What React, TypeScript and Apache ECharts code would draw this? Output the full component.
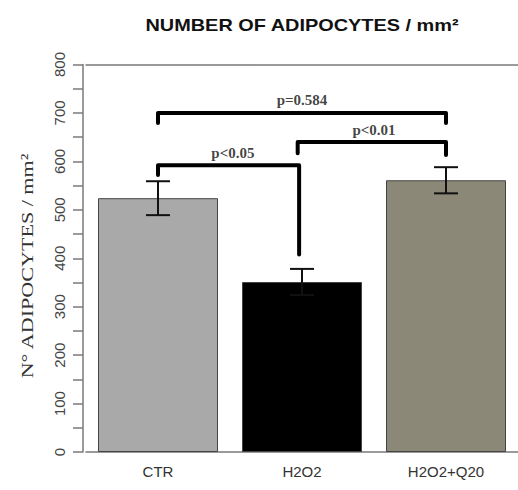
import React, { useEffect, useRef } from "react";
import * as echarts from "echarts";

const categories = ["CTR", "H2O2", "H2O2+Q20"];
const means = [524, 351, 561];
const errors = [35, 27, 27];
const barColors = ["#a9a9a9", "#000000", "#8b8878"];

// significance brackets: [x start, x end, left leg end, top, right leg end]
const bracketX0 = [0, 0, 0.97];
const bracketX1 = [2, 0.98, 2];
const bracketLeft = [679, 572, 617];
const bracketTop = [700, 592, 640];
const bracketRight = [679, 408, 613];
const bracketLabels = ["p=0.584", "p<0.05", "p<0.01"];
const labelX = [1, 0.52, 1.5];
const labelY = [727, 617, 664];

const titleText = "NUMBER OF ADIPOCYTES / mm²";
const yName = "N° ADIPOCYTES / mm²";

export default function App() {
  const ref = useRef<HTMLDivElement>(null);
  useEffect(() => {
    document.body.style.margin = "0";
    const chart = echarts.init(ref.current!, null, { renderer: "svg" });
    const axisGrey = "#7a7a7a";
    const bracketSeries = bracketLabels.map((_, i) => ({
      type: "line",
      xAxisIndex: 1,
      yAxisIndex: 0,
      symbol: "none",
      silent: true,
      z: 5,
      lineStyle: { color: "#000", width: 4, cap: "round", join: "round" },
      data: [
        [bracketX0[i], bracketLeft[i]],
        [bracketX0[i], bracketTop[i]],
        [bracketX1[i], bracketTop[i]],
        [bracketX1[i], bracketRight[i]],
      ],
    }));
    chart.setOption({
      animation: false,
      graphic: [
        {
          type: "text",
          x: 302,
          y: 25,
          scaleX: 1.17,
          style: {
            text: titleText,
            font: "bold 17px 'Liberation Sans'",
            fill: "#111",
            align: "center",
            verticalAlign: "middle",
          },
        },
        {
          type: "text",
          x: 27,
          y: 266,
          rotation: Math.PI / 2,
          scaleX: 1.3,
          style: {
            text: yName,
            font: "17px 'Liberation Serif'",
            fill: "#333",
            align: "center",
            verticalAlign: "middle",
          },
        },
      ],
      grid: { left: 86, top: 64.5, width: 435, height: 387.5 },
      xAxis: [
        {
          type: "category",
          data: categories,
          position: "bottom",
          axisLine: { lineStyle: { color: axisGrey, width: 1.5 } },
          axisTick: { alignWithLabel: true, length: 10, lineStyle: { color: "#555", width: 1.5 } },
          axisLabel: {
            margin: 12,
            fontFamily: "Liberation Sans",
            fontSize: 15,
            color: "#333",
          },
        },
        {
          type: "value",
          min: -0.5,
          max: 2.5,
          position: "top",
          axisLine: { show: true, onZero: false, lineStyle: { color: axisGrey, width: 1.5 } },
          axisTick: { show: false },
          axisLabel: { show: false },
          splitLine: { show: false },
        },
      ],
      yAxis: {
        type: "value",
        min: 0,
        max: 800,
        interval: 50,
        offset: 3,
        axisLine: { show: true, onZero: false, lineStyle: { color: axisGrey, width: 1.5 } },
        axisTick: { show: true, length: 10, lineStyle: { color: axisGrey, width: 1.5 } },
        splitLine: { show: false },
        axisLabel: {
          rotate: 90,
          margin: 16,
          fontFamily: "Liberation Sans",
          fontSize: 15,
          color: "#444",
          formatter: (v: number) => (v % 100 === 0 ? String(v) : ""),
        },
      },
      series: [
        {
          type: "bar",
          xAxisIndex: 0,
          barWidth: 120,
          data: means.map((v, i) => ({
            value: v,
            itemStyle: { color: barColors[i], borderColor: "#444", borderWidth: 1 },
          })),
        },
        {
          type: "custom",
          xAxisIndex: 0,
          z: 4,
          data: means.map((m, i) => [i, m - errors[i], m + errors[i]]),
          renderItem: (params: any, api: any) => {
            const x = api.value(0);
            const lo = api.coord([x, api.value(1)]);
            const hi = api.coord([x, api.value(2)]);
            const hw = 12;
            const style = { stroke: "#111", lineWidth: 2 };
            return {
              type: "group",
              children: [
                { type: "line", shape: { x1: lo[0], y1: lo[1], x2: hi[0], y2: hi[1] }, style },
                { type: "line", shape: { x1: hi[0] - hw, y1: hi[1], x2: hi[0] + hw, y2: hi[1] }, style },
                { type: "line", shape: { x1: lo[0] - hw, y1: lo[1], x2: lo[0] + hw, y2: lo[1] }, style },
              ],
            };
          },
        },
        ...bracketSeries,
        {
          type: "scatter",
          xAxisIndex: 1,
          symbolSize: 0,
          silent: true,
          z: 6,
          data: bracketLabels.map((t, i) => ({ name: t, value: [labelX[i], labelY[i]] })),
          label: {
            show: true,
            position: "inside",
            formatter: (p: any) => p.name,
            fontFamily: "Liberation Serif",
            fontWeight: "bold",
            fontSize: 15,
            color: "#111",
          },
        },
      ],
    });
    return () => chart.dispose();
  }, []);
  return <div ref={ref} style={{ width: 518, height: 490 }} />;
}
